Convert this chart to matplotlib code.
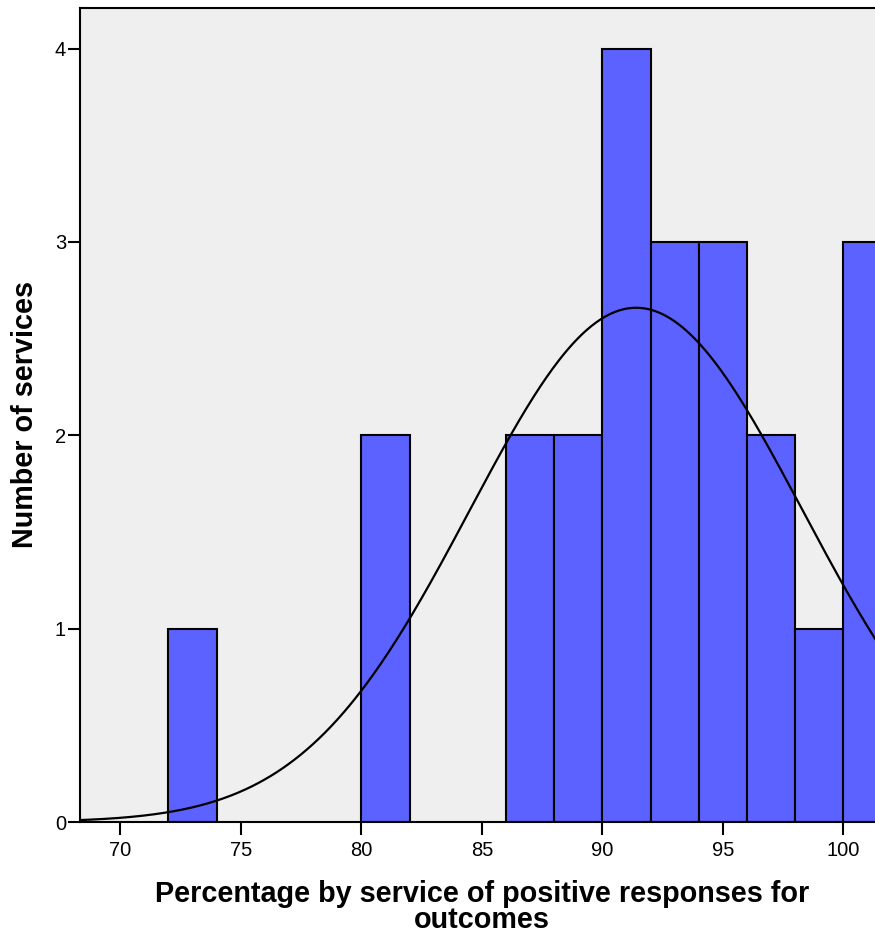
import numpy as np
import matplotlib
matplotlib.use("Agg")
import matplotlib.pyplot as plt

# Histogram bins (lower edges, width 2) and service counts per bin
bin_lefts = [72, 80, 86, 88, 90, 92, 94, 96, 98, 100]
counts = [1, 2, 2, 2, 4, 3, 3, 2, 1, 3]
bin_width = 2

# Fitted normal curve parameters
curve_mean = 91.4
curve_sd = 6.9
n_services = sum(counts)

x_ticks = [70, 75, 80, 85, 90, 95, 100]
y_ticks = [0, 1, 2, 3, 4]

plt.rcParams['font.family'] = ['Liberation Sans', 'DejaVu Sans']

fig = plt.figure(figsize=(8.75, 9.4), dpi=100)
ax = fig.add_axes([80 / 875, 1 - 822 / 940, 1 - 80 / 875 + 0.002, (822 - 8) / 940])
ax.set_facecolor('#EFEFEF')

ax.bar(bin_lefts, counts, width=bin_width, align='edge',
       color='#5C62FF', edgecolor='black', linewidth=1.5, zorder=2)

xs = np.linspace(66, 104, 600)
ys = n_services * bin_width / (curve_sd * np.sqrt(2 * np.pi)) * \
    np.exp(-0.5 * ((xs - curve_mean) / curve_sd) ** 2)
ax.plot(xs, ys, color='black', linewidth=1.6, zorder=3)

ax.set_xlim(68.33, 101.38)
ax.set_ylim(0, 4.21)
ax.set_xticks(x_ticks)
ax.set_yticks(y_ticks)
ax.tick_params(axis='both', direction='out', length=9, width=1.5,
               labelsize=14.5, colors='black')
ax.tick_params(axis='x', pad=5)
ax.tick_params(axis='y', pad=1)

for side in ['left', 'bottom', 'top']:
    ax.spines[side].set_linewidth(1.5)
    ax.spines[side].set_color('black')
ax.spines['right'].set_visible(False)

fig.text(482 / 875, 1 - 928 / 940,
         'Percentage by service of positive responses for\noutcomes',
         ha='center', va='baseline', fontsize=20.7, fontweight='bold',
         linespacing=0.9)
fig.text(25 / 875, 1 - 414 / 940, 'Number of services', rotation=90,
         ha='center', va='center', fontsize=20.7, fontweight='bold')

fig.savefig('out.png', dpi=100)
